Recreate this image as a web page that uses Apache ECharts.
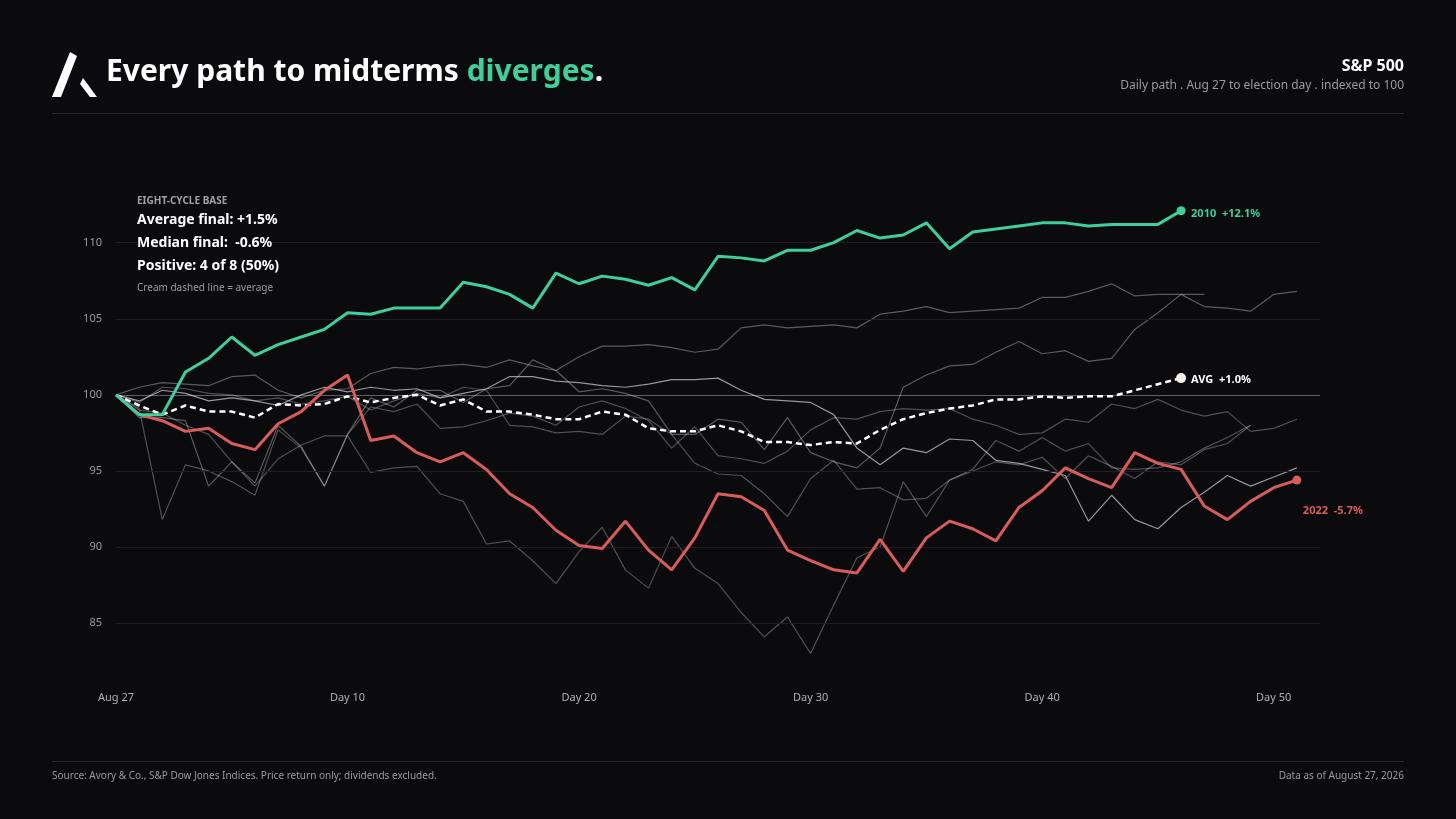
<!DOCTYPE html>
<html><head><meta charset="utf-8">
<script src="https://cdn.jsdelivr.net/npm/echarts@6/dist/echarts.min.js"></script>
<style>html,body{margin:0;background:#0b0b0e}#c{width:1456px;height:819px}</style>
</head><body><div id="c"></div>
<script>
const days = Array.from({length:53},(_, i)=>i);
const xTickLabels = {0:'Aug 27',10:'Day 10',20:'Day 20',30:'Day 30',40:'Day 40',50:'Day 50'};
const yGridValues = [85,90,95,105,110];
const s2010 = [100,98.7,98.7,101.5,102.4,103.8,102.6,103.3,103.8,104.3,105.4,105.3,105.7,105.7,105.7,107.4,107.1,106.6,105.7,108.0,107.3,107.8,107.6,107.2,107.7,106.9,109.1,109.0,108.8,109.5,109.5,110.0,110.8,110.3,110.5,111.3,109.6,110.7,110.9,111.1,111.3,111.3,111.1,111.2,111.2,111.2,112.1];
const s2022 = [100,98.7,98.3,97.6,97.8,96.8,96.4,98.1,98.9,100.3,101.3,97.0,97.3,96.2,95.6,96.2,95.1,93.5,92.6,91.1,90.1,89.9,91.7,89.8,88.5,90.6,93.5,93.3,92.4,89.8,89.1,88.5,88.3,90.5,88.4,90.6,91.7,91.2,90.4,92.6,93.7,95.2,94.5,93.9,96.2,95.5,95.1,92.7,91.8,93.0,93.9,94.4];
const sAvg = [100,99.3,98.7,99.3,98.9,98.9,98.5,99.4,99.3,99.4,99.9,99.5,99.8,100,99.3,99.7,98.9,98.9,98.7,98.4,98.4,98.9,98.7,97.8,97.6,97.6,98.0,97.6,96.9,96.9,96.7,96.9,96.8,97.7,98.4,98.8,99.1,99.3,99.7,99.7,99.9,99.8,99.9,99.9,100.3,100.7,101.1];
const gA = [100,100.5,100.8,100.7,100.6,101.2,101.3,100.3,99.8,100.3,100.4,101.4,101.8,101.7,101.9,102.0,101.8,102.3,101.9,101.6,102.5,103.2,103.2,103.3,103.1,102.8,103.0,104.4,104.6,104.4,104.5,104.6,104.4,105.3,105.5,105.8,105.4,105.5,105.6,105.7,106.4,106.4,106.8,107.3,106.5,106.6,106.6,105.8,105.7,105.5,106.6,106.8];
const gB = [100,98.5,98.5,98.3,94.0,95.6,94.2,98.0,96.6,94.0,97.4,99.8,99.2,100.3,100.3,99.5,100.4,100.6,102.3,101.6,100.2,100.4,100.1,99.6,97.4,97.4,98.4,98.2,96.4,98.5,96.2,95.6,95.2,96.5,100.5,101.3,101.9,102.0,102.8,103.5,102.7,102.9,102.2,102.4,104.3,105.4,106.6,106.6];
const gC = [100,99.1,91.8,95.4,95.0,94.3,93.4,97.7,96.5,94.0,97.4,99.2,98.9,99.4,97.8,97.9,98.3,98.8,98.6,98.0,99.2,99.6,99.1,98.3,96.5,97.9,96.0,95.8,95.5,96.3,97.7,98.5,98.4,98.9,99.1,99.0,99.1,98.4,98.0,97.4,97.5,98.4,98.2,99.4,99.1,99.7,99.0,98.6,98.9,97.6,97.8,98.4];
const gD = [100,99.0,98.8,98.0,97.4,95.6,94.0,95.8,96.7,97.3,97.3,94.9,95.2,95.3,93.5,93.0,90.2,90.4,89.1,87.6,89.7,91.3,88.5,87.3,90.7,88.6,87.6,85.7,84.1,85.4,83.0,86.2,89.3,90.0,94.3,92.0,94.4,95.1,97.0,96.3,97.2,96.3,96.8,95.2,95.1,95.2,95.6,96.5,97.2,98.0];
const gE = [100,99.5,100.5,100.4,100.1,100.0,99.6,99.8,99.4,99.6,99.9,99.0,99.6,100.1,99.8,100.5,100.3,98.0,97.9,97.5,97.6,97.4,98.6,98.4,97.4,95.5,94.8,94.7,93.5,92.0,94.5,95.7,93.8,93.9,93.1,93.2,94.4,95.0,95.6,95.4,95.9,94.5,96.0,95.3,94.5,95.6,95.4,96.4,96.8,98.0];
const gF = [100,99.6,100.3,100.1,99.6,99.8,99.6,99.3,100.0,100.5,100.2,100.5,100.3,100.4,99.8,100.1,100.4,101.2,101.2,100.9,100.8,100.6,100.5,100.7,101.0,101.0,101.1,100.3,99.7,99.6,99.5,98.7,96.5,95.4,96.5,96.2,97.1,97.0,95.7,95.5,95.1,94.7,91.7,93.4,91.8,91.2,92.6,93.6,94.7,94.0,94.6,95.2];
const grays = [gA,gB,gC,gD,gE,gF];
const grayAlpha = [0.4,0.4,0.35,0.35,0.35,0.7];

const pair = a => a.map((v,i)=>[i,v]);
const lastDot = (arr,size) => (v,p)=> p.dataIndex===arr.length-1?size:0;
const series = [];
grays.forEach((g,k)=>series.push({type:'line',data:pair(g),symbol:'none',lineStyle:{width:1.2,color:`rgba(210,210,215,${grayAlpha[k]})`},z:2,silent:true}));
series.push({type:'line',data:[],z:1,markLine:{silent:true,symbol:'none',
  label:{position:'start',color:'#9a9aa0',fontSize:11,distance:14,fontFamily:'Noto Sans'},
  lineStyle:{color:'#1e1e24',type:'solid',width:1},
  data:[...yGridValues.map(v=>({yAxis:v})),{yAxis:100,lineStyle:{color:'rgba(255,255,255,0.35)',width:1}}]}});
series.push({type:'line',data:pair(sAvg),symbol:'circle',symbolSize:lastDot(sAvg,10),itemStyle:{color:'#f2efe6'},
  lineStyle:{color:'#ffffff',width:2.5,type:[6,4]},z:5,
  endLabel:{show:true,formatter:'AVG  +1.0%',color:'#fff',fontSize:11,fontWeight:'bold',offset:[2,2],fontFamily:'Noto Sans'}});
series.push({type:'line',data:pair(s2022),symbol:'circle',symbolSize:lastDot(s2022,9),itemStyle:{color:'#d95c5c'},
  lineStyle:{color:'#d95c5c',width:3},z:6,
  endLabel:{show:true,formatter:'2022  -5.7%',color:'#d95c5c',fontSize:11,fontWeight:'bold',offset:[-2,31],fontFamily:'Noto Sans'}});
series.push({type:'line',data:pair(s2010),symbol:'circle',symbolSize:lastDot(s2010,9),itemStyle:{color:'#3ecf9a'},
  lineStyle:{color:'#3ecf9a',width:3},z:7,
  endLabel:{show:true,formatter:'2010  +12.1%',color:'#3ecf9a',fontSize:11,fontWeight:'bold',offset:[2,3],fontFamily:'Noto Sans'}});

const T = (o)=>Object.assign({z:100},o);
const chart = echarts.init(document.getElementById('c'));
chart.setOption({
  backgroundColor:'#0b0b0e',
  animation:false,
  textStyle:{fontFamily:'Noto Sans'},
  grid:{left:116,right:136,top:197,bottom:135},
  xAxis:{type:'value',min:0,max:52,interval:10,axisLine:{show:false},axisTick:{show:false},splitLine:{show:false},
    axisLabel:{color:'#b0b0b5',fontSize:11,margin:8,formatter:v=>xTickLabels[v]||''}},
  yAxis:{type:'value',min:81,max:113,axisLine:{show:false},axisTick:{show:false},splitLine:{show:false},axisLabel:{show:false}},
  series,
  graphic:[
    {type:'polygon',shape:{points:[[52,97],[70,52],[77,56],[61,97]]},style:{fill:'#fff'}},
    {type:'polygon',shape:{points:[[83,78],[97,97],[90,97],[80,84]]},style:{fill:'#fff'}},
    T({type:'text',left:106,top:57,style:{rich:{a:{fill:'#fff',fontSize:30,fontWeight:'bold',fontFamily:'Noto Sans'},b:{fill:'#3ecf9a',fontSize:30,fontWeight:'bold',fontFamily:'Noto Sans'}},text:'{a|Every path to midterms }{b|diverges}{a|.}'}}),
    T({type:'text',right:52,top:58,style:{text:'S&P 500',fill:'#fff',fontSize:16,fontWeight:'bold',fontFamily:'Noto Sans',align:'right'}}),
    T({type:'text',right:52,top:80,style:{text:'Daily path . Aug 27 to election day . indexed to 100',fill:'#9a9aa0',fontSize:12,fontFamily:'Noto Sans',align:'right'}}),
    {type:'rect',shape:{x:52,y:113,width:1352,height:1},style:{fill:'#26262c'}},
    {type:'rect',shape:{x:52,y:761,width:1352,height:1},style:{fill:'#26262c'}},
    T({type:'text',left:137,top:196,style:{text:'EIGHT-CYCLE BASE',fill:'#a0a0a6',fontSize:10,fontWeight:'bold',fontFamily:'Noto Sans'}}),
    T({type:'text',left:137,top:213,style:{text:'Average final: +1.5%',fill:'#fff',fontSize:14,fontWeight:'bold',fontFamily:'Noto Sans',backgroundColor:'#0b0b0e'}}),
    T({type:'text',left:137,top:236,style:{text:'Median final:  -0.6%',fill:'#fff',fontSize:14,fontWeight:'bold',fontFamily:'Noto Sans',backgroundColor:'#0b0b0e'}}),
    T({type:'text',left:137,top:259,style:{text:'Positive: 4 of 8 (50%)',fill:'#fff',fontSize:14,fontWeight:'bold',fontFamily:'Noto Sans',backgroundColor:'#0b0b0e'}}),
    T({type:'text',left:137,top:283,style:{text:'Cream dashed line = average',fill:'#9a9aa0',fontSize:10,fontFamily:'Noto Sans'}}),
    T({type:'text',left:52,top:771,style:{text:'Source: Avory & Co., S&P Dow Jones Indices. Price return only; dividends excluded.',fill:'#9a9aa0',fontSize:10,fontFamily:'Noto Sans'}}),
    T({type:'text',right:52,top:771,style:{text:'Data as of August 27, 2026',fill:'#9a9aa0',fontSize:10,fontFamily:'Noto Sans',align:'right'}})
  ]
});
</script></body></html>
